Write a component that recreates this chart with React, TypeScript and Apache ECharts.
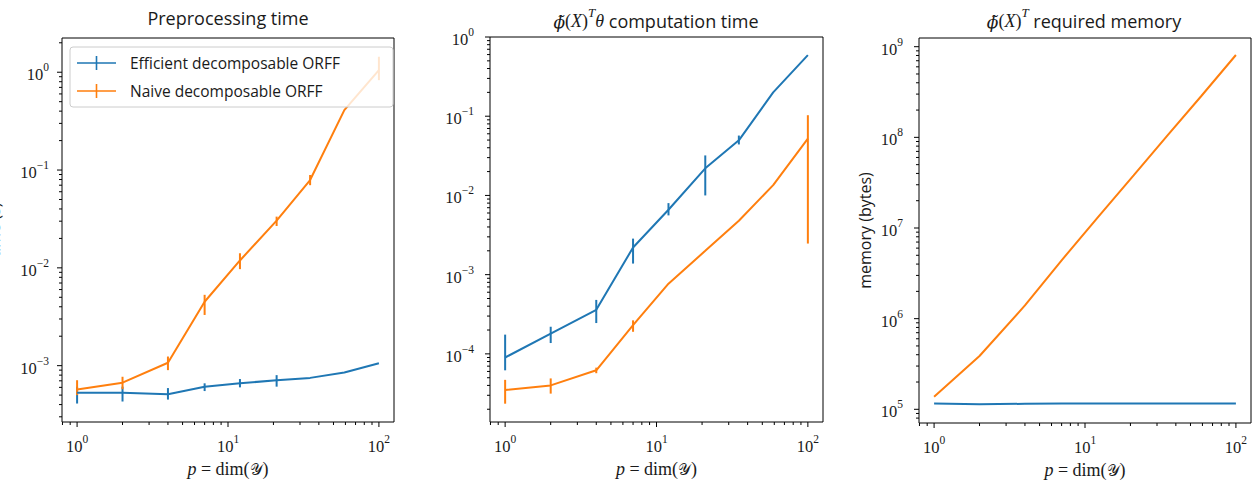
import React, { useEffect, useRef } from 'react';
import * as echarts from 'echarts';

// Output dimension p = dim(Y)
const P = [1, 2, 4, 7, 12, 21, 35, 59, 100];

const SERIES_NAMES = ['Efficient decomposable ORFF', 'Naive decomposable ORFF'];

// Preprocessing time (s): mean, lower and upper ends of the error bars
const effPre = [5.3e-4, 5.3e-4, 5.1e-4, 6.1e-4, 6.6e-4, 7.1e-4, 7.5e-4, 8.5e-4, 1.06e-3];
const effPreLo = [4.1e-4, 4.3e-4, 4.5e-4, 5.5e-4, 6.0e-4, 6.1e-4, null, null, null];
const effPreHi = [6.1e-4, 6.1e-4, 5.9e-4, 6.6e-4, 7.3e-4, 8.0e-4, null, null, null];
const naivePre = [5.7e-4, 6.7e-4, 1.07e-3, 4.5e-3, 1.19e-2, 3.04e-2, 7.9e-2, 0.41, 1.05];
const naivePreLo = [5.0e-4, 5.75e-4, 9.0e-4, 3.3e-3, 9.7e-3, 2.68e-2, 7.0e-2, null, 0.83];
const naivePreHi = [7.1e-4, 7.7e-4, 1.24e-3, 5.3e-3, 1.41e-2, 3.34e-2, 8.9e-2, null, 1.44];

// phi(X)^T theta computation time (s)
const effComp = [9.0e-5, 1.8e-4, 3.6e-4, 2.2e-3, 6.6e-3, 2.2e-2, 4.96e-2, 0.2, 0.59];
const effCompLo = [6.2e-5, 1.37e-4, 2.45e-4, 1.38e-3, 5.6e-3, 1.0e-2, 4.4e-2, null, null];
const effCompHi = [1.75e-4, 2.2e-4, 4.8e-4, 2.85e-3, 8.0e-3, 3.2e-2, 5.7e-2, null, null];
const naiveComp = [3.5e-5, 4.0e-5, 6.2e-5, 2.3e-4, 7.7e-4, 2.0e-3, 4.8e-3, 1.35e-2, 5.2e-2];
const naiveCompLo = [2.35e-5, 3.15e-5, 5.7e-5, 1.9e-4, null, null, null, null, 2.47e-3];
const naiveCompHi = [4.7e-5, 4.9e-5, 6.7e-5, 2.65e-4, null, null, null, null, 0.103];

// phi(X)^T required memory (bytes)
const effMem = [1.16e5, 1.14e5, 1.15e5, 1.16e5, 1.16e5, 1.16e5, 1.16e5, 1.16e5, 1.16e5];
const naiveMem = [1.38e5, 3.87e5, 1.4e6, 4.4e6, 1.28e7, 3.8e7, 1.04e8, 2.86e8, 8.1e8];

const BLUE = '#1f77b4';
const ORANGE = '#ff7f0e';
const INK = '#1a1a1a';
const SERIF = '"Liberation Serif", "DejaVu Serif", serif';
const MATH = '"DejaVu Serif", "Liberation Serif", serif';
const SANS = '"Open Sans", "DejaVu Sans", sans-serif';

// Axis extents (log10 exponents)
const X_EXP = [-0.1, 2.1];
const Y_EXP = [
  [-3.576, 0.35],
  [-4.86, 0],
  [4.849, 9.096],
];

const GRIDS = [
  { left: 62, top: 38, width: 332, height: 384 },
  { left: 490, top: 37, width: 333, height: 385 },
  { left: 919, top: 38, width: 332, height: 385 },
];

const TITLE_X = [228, 656, 1084];

const pow10Label = (v: number) => {
  const e = Math.log10(v);
  const r = Math.round(e);
  if (Math.abs(e - r) > 1e-6) return '';
  const sup = r < 0 ? '\u2212' + -r : String(r);
  return `{b|10}{s|${sup}}`;
};

const labelRich = {
  b: { fontFamily: SERIF, fontSize: 16.5, lineHeight: 22, verticalAlign: 'bottom', color: INK },
  s: { fontFamily: SERIF, fontSize: 11.5, lineHeight: 12, verticalAlign: 'top', color: INK },
};

const mathRich = {
  mi: { fontFamily: SERIF, fontStyle: 'italic', fontSize: 18, lineHeight: 24, verticalAlign: 'bottom', color: INK },
  ph: { fontFamily: MATH, fontStyle: 'italic', fontSize: 17, lineHeight: 24, verticalAlign: 'bottom', color: INK },
  mr: { fontFamily: SERIF, fontSize: 18, lineHeight: 24, verticalAlign: 'bottom', color: INK },
  mc: { fontFamily: '"DejaVu Sans", serif', fontSize: 16, lineHeight: 24, verticalAlign: 'bottom', color: INK },
  sup: { fontFamily: SERIF, fontStyle: 'italic', fontSize: 13, lineHeight: 13, verticalAlign: 'top', color: INK },
  t: { fontFamily: SANS, fontSize: 18, lineHeight: 24, verticalAlign: 'bottom', color: INK },
};

const errData = (lo: (number | null)[], hi: (number | null)[]) =>
  P.map((p, i) => (lo[i] == null || hi[i] == null ? null : [p, lo[i], hi[i]])).filter(Boolean);

const lineData = (ys: number[]) => P.map((p, i) => [p, ys[i]]);

const errorSeries = (name: string, idx: number, color: string, lo: (number | null)[], hi: (number | null)[]) => ({
  type: 'custom',
  name,
  xAxisIndex: idx,
  yAxisIndex: idx,
  encode: { x: 0, y: [1, 2] },
  data: errData(lo, hi),
  z: 3,
  renderItem: (_params: any, api: any) => {
    const x = api.value(0);
    const a = api.coord([x, api.value(1)]);
    const b = api.coord([x, api.value(2)]);
    return {
      type: 'line',
      shape: { x1: a[0], y1: a[1], x2: b[0], y2: b[1] },
      style: { stroke: color, lineWidth: 2 },
    };
  },
});

const lineSeries = (name: string, idx: number, color: string, ys: number[]) => ({
  type: 'line',
  name,
  xAxisIndex: idx,
  yAxisIndex: idx,
  data: lineData(ys),
  showSymbol: false,
  symbol: 'none',
  color,
  lineStyle: { color, width: 2 },
  z: 3,
});

export default function App() {
  const ref = useRef<HTMLDivElement>(null);

  useEffect(() => {
    if (!ref.current) return;
    const chart = echarts.init(ref.current, null, { renderer: 'svg' });

    const LEGEND_FONT = 15.5;
    // legend frame reaches the right spine of the first panel
    const ctx = document.createElement('canvas').getContext('2d')!;
    ctx.font = `${LEGEND_FONT}px ${SANS}`;
    const textW = Math.max(...SERIES_NAMES.map((s) => ctx.measureText(s).width));
    const legendLeft = 70;
    const legendRight = 393;
    const inner = 7 + 39 + 5 + 9 + textW;
    const padRight = Math.max(6, legendRight - legendLeft - inner);

    const xAxes = GRIDS.map((_, i) => ({
      type: 'log',
      logBase: 10,
      gridIndex: i,
      min: 10 ** X_EXP[0],
      max: 10 ** X_EXP[1],
      axisLine: { show: false },
      axisTick: { show: false },
      splitLine: { show: false },
      axisLabel: { formatter: pow10Label, rich: labelRich, margin: 11 },
      name: '{mi|p}{mr| = dim(}{mc|\u{1D4B4}}{mr|)}',
      nameLocation: 'middle',
      nameGap: 30,
      nameTextStyle: { rich: mathRich },
    }));

    const yAxes = GRIDS.map((_, i) => ({
      type: 'log',
      logBase: 10,
      gridIndex: i,
      min: 10 ** Y_EXP[i][0],
      max: 10 ** Y_EXP[i][1],
      axisLine: { show: false },
      axisTick: { show: false },
      splitLine: { show: false },
      axisLabel: { formatter: pow10Label, rich: labelRich, margin: i === 0 ? 13 : 16 },
      name: i === 0 ? 'time (s)' : i === 2 ? 'memory (bytes)' : '',
      nameLocation: 'middle',
      nameGap: i === 0 ? 60 : 46,
      nameTextStyle: { fontFamily: SANS, fontSize: 16, color: INK },
    }));

    const option: any = {
      animation: false,
      backgroundColor: '#ffffff',
      title: [
        { text: 'Preprocessing time' },
        { text: '{ph|\u03d5\u0303}{mr|(}{mi|X}{mr|)}{sup|T}{mi|\u03b8}{t| computation time}' },
        { text: '{ph|\u03d5\u0303}{mr|(}{mi|X}{mr|)}{sup|T}{t| required memory}' },
      ].map((t, i) => ({
        ...t,
        left: TITLE_X[i],
        top: 6,
        textAlign: 'center',
        padding: 0,
        textStyle: { fontFamily: SANS, fontSize: 18, fontWeight: 'normal', color: INK, lineHeight: 24, rich: mathRich },
      })),
      grid: GRIDS.map((g) => ({
        ...g,
        containLabel: false,
        outerBoundsMode: 'none',
        show: true,
        borderColor: '#000',
        borderWidth: 1,
        backgroundColor: 'transparent',
      })),
      xAxis: xAxes,
      yAxis: yAxes,
      legend: {
        data: SERIES_NAMES,
        orient: 'vertical',
        left: legendLeft,
        top: 47,
        itemWidth: 39,
        itemHeight: 14,
        itemGap: 12,
        icon: 'path://M0,6.2h39v1.6h-39z M18.7,0h1.6v14h-1.6z',
        padding: [8, padRight, 8, 7],
        backgroundColor: 'rgba(255,255,255,0.8)',
        borderColor: '#cccccc',
        borderWidth: 1,
        borderRadius: 3,
        selectedMode: false,
        textStyle: { fontFamily: SANS, fontSize: LEGEND_FONT, color: INK, padding: [0, 0, 0, 9] },
        z: 10,
      },
      series: [
        lineSeries(SERIES_NAMES[0], 0, BLUE, effPre),
        errorSeries('eff-pre-err', 0, BLUE, effPreLo, effPreHi),
        lineSeries(SERIES_NAMES[1], 0, ORANGE, naivePre),
        errorSeries('naive-pre-err', 0, ORANGE, naivePreLo, naivePreHi),
        lineSeries('eff-comp', 1, BLUE, effComp),
        errorSeries('eff-comp-err', 1, BLUE, effCompLo, effCompHi),
        lineSeries('naive-comp', 1, ORANGE, naiveComp),
        errorSeries('naive-comp-err', 1, ORANGE, naiveCompLo, naiveCompHi),
        lineSeries('eff-mem', 2, BLUE, effMem),
        lineSeries('naive-mem', 2, ORANGE, naiveMem),
      ],
    };

    chart.setOption(option);

    // log-scale major and minor ticks, placed through the axes' own scales
    const graphics: any[] = [];
    const tick = (x1: number, y1: number, x2: number, y2: number) =>
      graphics.push({
        type: 'line',
        silent: true,
        shape: { x1, y1, x2, y2 },
        style: { stroke: '#000', lineWidth: 1 },
        z: 5,
      });
    GRIDS.forEach((g, i) => {
      const bottom = g.top + g.height;
      const yMid = 10 ** ((Y_EXP[i][0] + Y_EXP[i][1]) / 2);
      const xMid = 10 ** ((X_EXP[0] + X_EXP[1]) / 2);
      for (let e = Math.floor(X_EXP[0]); e <= Math.ceil(X_EXP[1]); e++) {
        for (let k = 1; k <= 9; k++) {
          const v = k * 10 ** e;
          const le = Math.log10(v);
          if (le < X_EXP[0] - 1e-9 || le > X_EXP[1] + 1e-9) continue;
          const px = chart.convertToPixel({ gridIndex: i }, [v, yMid])[0];
          tick(px, bottom, px, bottom + (k === 1 ? 5 : 3));
        }
      }
      for (let e = Math.floor(Y_EXP[i][0]); e <= Math.ceil(Y_EXP[i][1]); e++) {
        for (let k = 1; k <= 9; k++) {
          const v = k * 10 ** e;
          const le = Math.log10(v);
          if (le < Y_EXP[i][0] - 1e-9 || le > Y_EXP[i][1] + 1e-9) continue;
          const py = chart.convertToPixel({ gridIndex: i }, [xMid, v])[1];
          tick(g.left, py, g.left - (k === 1 ? 5 : 3), py);
        }
      }
    });
    chart.setOption({ graphic: graphics });

    return () => chart.dispose();
  }, []);

  return (
    <div
      ref={ref}
      style={{ position: 'absolute', left: 0, top: 0, width: 1254, height: 485, background: '#fff' }}
    />
  );
}
